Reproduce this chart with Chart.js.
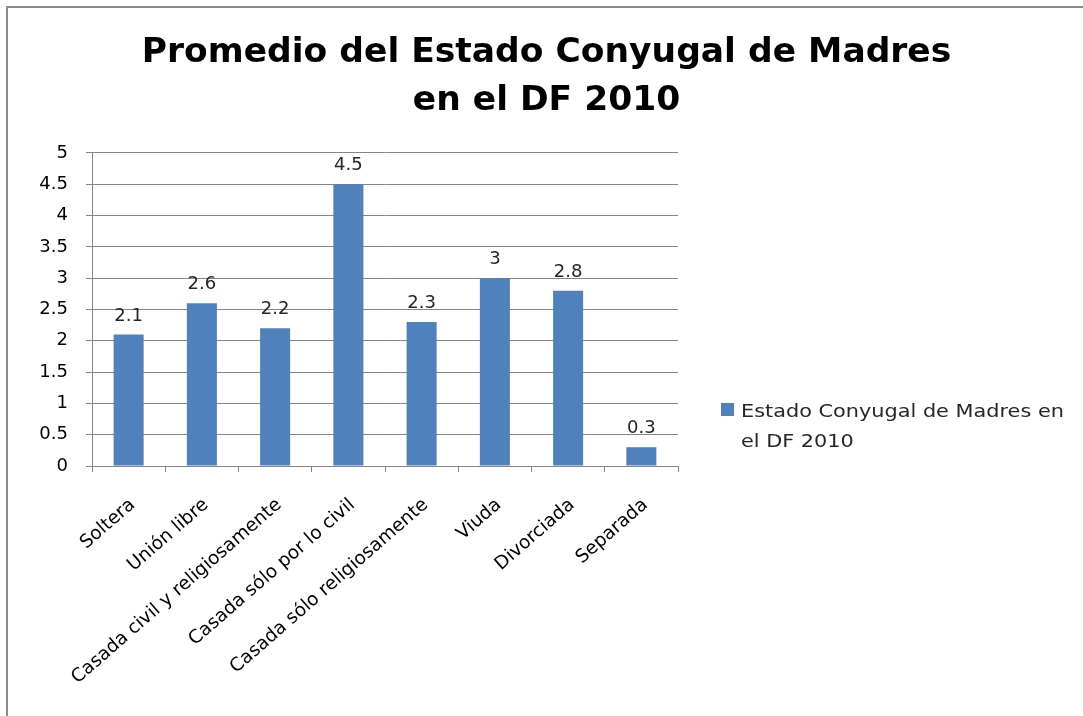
<!DOCTYPE html>
<html><head><meta charset="utf-8">
<script src="https://cdn.jsdelivr.net/npm/chart.js@4"></script>
<style>
html,body{margin:0;padding:0;background:#fff;}
#wrap{position:relative;width:1083px;height:716px;overflow:hidden;}
#frame{position:absolute;left:6px;top:6px;width:1200px;height:800px;border-left:2px solid #8c8c8c;border-top:2px solid #8c8c8c;}
canvas{position:absolute;left:0;top:0;}
</style></head><body>
<div id="wrap"><div id="frame"></div><canvas id="c" width="1083" height="716"></canvas></div>
<script>
const categories = ['Soltera','Unión libre','Casada civil y religiosamente','Casada sólo por lo civil','Casada sólo religiosamente','Viuda','Divorciada','Separada'];
const values = [2.1, 2.6, 2.2, 4.5, 2.3, 3, 2.8, 0.3];
const seriesLabel = 'Estado Conyugal de Madres en el DF 2010';
const legendLines = ['Estado Conyugal de Madres en', 'el DF 2010'];
const titleLines = ['Promedio del Estado Conyugal de Madres', 'en el DF 2010'];
const yMin = 0, yMax = 5, yStep = 0.5;

const BAR = '#4F81BD';
const GRID = '#868686';
const FONT = '"DejaVu Sans"';

const dataLabels = {
  id: 'dataLabels',
  afterDatasetsDraw(chart) {
    const ctx = chart.ctx;
    ctx.save();
    ctx.font = '18px ' + FONT;
    ctx.fillStyle = '#262626';
    ctx.textAlign = 'center';
    ctx.textBaseline = 'alphabetic';
    chart.getDatasetMeta(0).data.forEach((bar, i) => {
      ctx.fillText(String(chart.data.datasets[0].data[i]), bar.x, bar.y - 14);
    });
    ctx.restore();
  }
};

const sideLegend = {
  id: 'sideLegend',
  afterDraw(chart) {
    const ctx = chart.ctx;
    ctx.save();
    ctx.fillStyle = chart.data.datasets[0].backgroundColor;
    ctx.fillRect(721, 403, 13, 13);
    ctx.font = '17px ' + FONT;
    ctx.fillStyle = '#262626';
    ctx.textAlign = 'left';
    ctx.textBaseline = 'alphabetic';
    legendLines.forEach((t, i) => {
      ctx.save();
      ctx.translate(741, 417 + i * 30);
      ctx.scale(1.225, 1);
      ctx.fillText(t, 0, 0);
      ctx.restore();
    });
    ctx.restore();
  }
};

new Chart(document.getElementById('c'), {
  type: 'bar',
  data: {
    labels: categories,
    datasets: [{
      label: seriesLabel,
      data: values,
      backgroundColor: BAR,
      borderWidth: 0,
      categoryPercentage: 0.82,
      barPercentage: 0.5
    }]
  },
  options: {
    responsive: false,
    animation: false,
    layout: { padding: { left: 10, top: 0, right: 0, bottom: 0 } },
    plugins: {
      legend: { display: false },
      tooltip: { enabled: false },
      title: {
        display: true,
        text: titleLines,
        color: '#000',
        font: { family: 'DejaVu Sans', weight: 'bold', size: 34.5, lineHeight: 1.39 },
        padding: { top: 29, bottom: 28 }
      }
    },
    scales: {
      y: {
        min: yMin, max: yMax,
        ticks: { stepSize: yStep, color: '#000', font: { family: 'DejaVu Sans', size: 18 }, padding: 18,
                 callback: (v) => String(v) },
        grid: { color: GRID, tickLength: 6, lineWidth: 1 },
        border: { color: GRID, width: 1 },
        afterFit(s) { s.width = 82; }
      },
      y2: {
        position: 'right',
        display: true,
        grid: { display: false, drawTicks: false },
        ticks: { display: false },
        border: { display: false },
        afterFit(s) { s.width = 405; }
      },
      x: {
        ticks: { color: '#000', font: { family: 'DejaVu Sans', size: 18.5 }, minRotation: 41, maxRotation: 41, padding: 22, labelOffset: 4, autoSkip: false },
        grid: { drawOnChartArea: false, color: GRID, tickLength: 6 },
        border: { color: GRID, width: 1 },
        afterFit(s) { s.height = 250; }
      }
    }
  },
  plugins: [dataLabels, sideLegend]
});
</script>
</body></html>
